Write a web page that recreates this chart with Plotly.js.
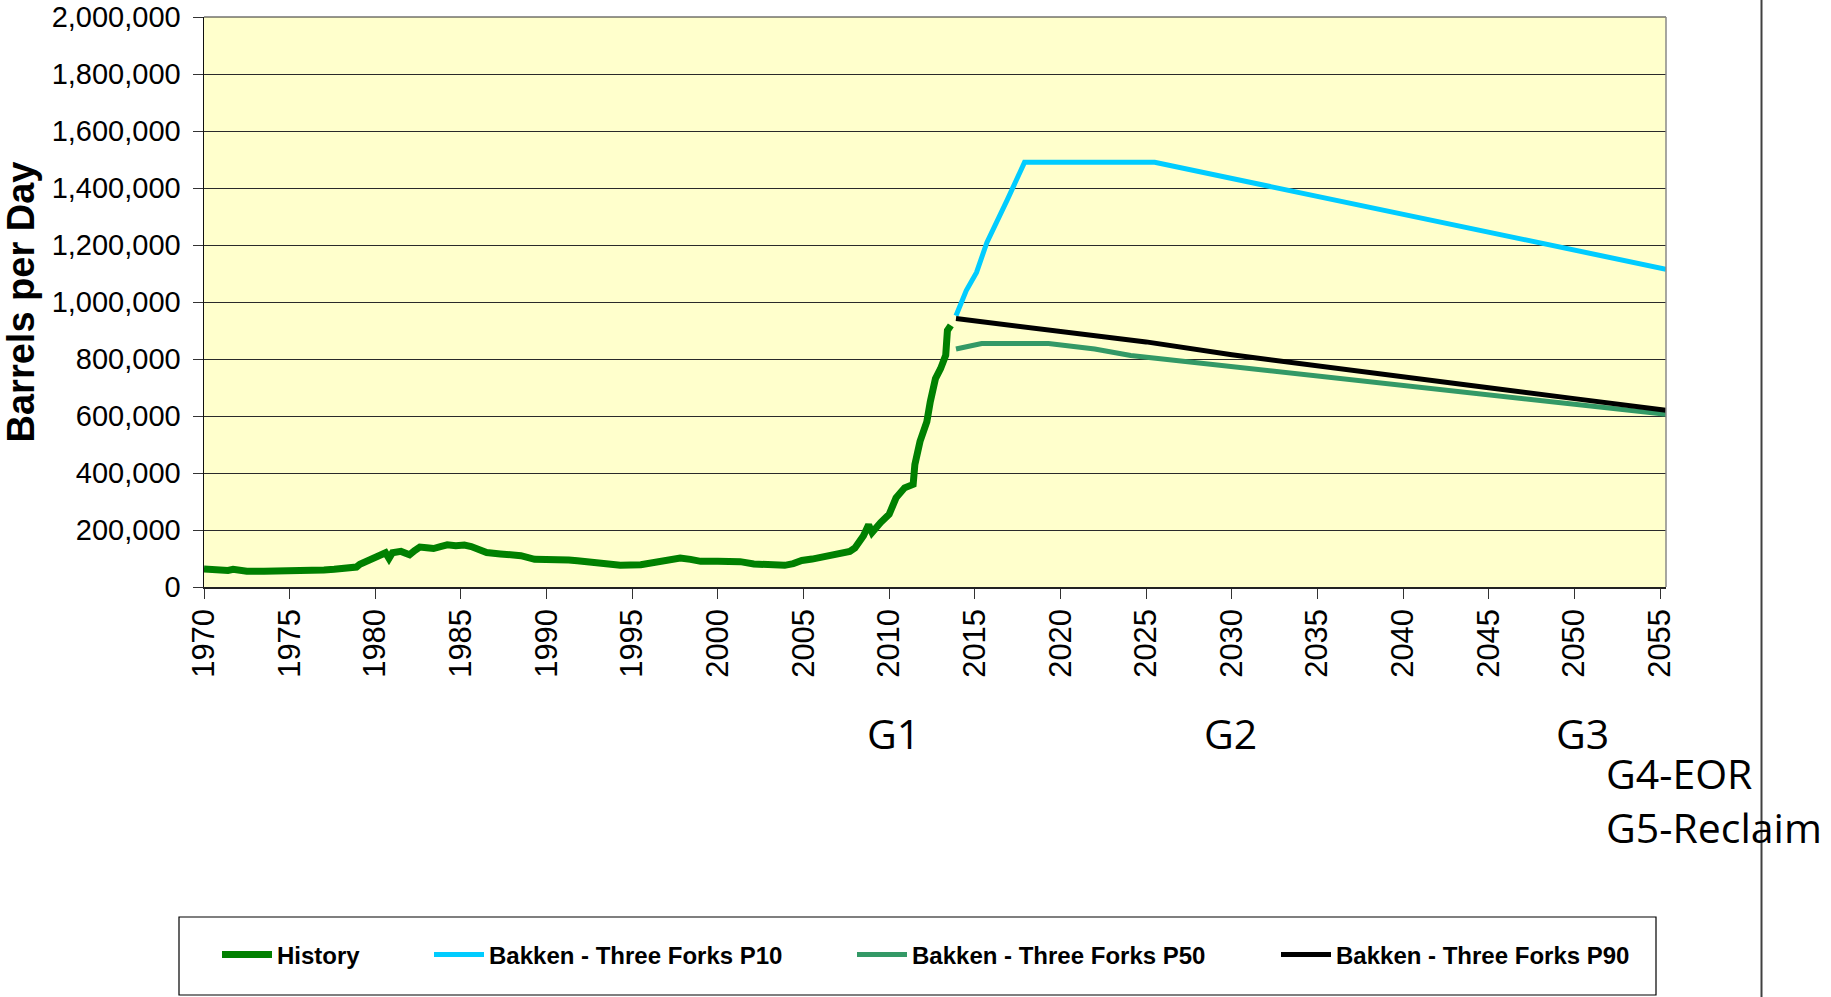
<!DOCTYPE html>
<html>
<head>
<meta charset="utf-8">
<script src="https://cdn.plot.ly/plotly-3.0.1.min.js"></script>
<style>html,body{margin:0;padding:0;background:#fff;}#chart{width:1831px;height:997px;}</style>
</head>
<body>
<div id="chart"></div>
<script>
// ---- data (years, barrels per day in thousands) ----
const histYears = [1970.0,1970.5,1971.0,1971.4,1971.7,1972.5,1973.5,1974.5,1975.5,1975.8,1976.5,1977.0,1977.6,1978.2,1978.9,1979.1,1979.5,1979.9,1980.3,1980.6,1980.8,1981.0,1981.5,1982.0,1982.3,1982.6,1983.0,1983.4,1983.8,1984.2,1984.7,1985.2,1985.6,1985.9,1986.5,1987.3,1988.0,1988.5,1989.3,1990.0,1990.8,1991.3,1991.8,1992.5,1993.2,1994.3,1995.5,1996.5,1997.3,1997.8,1998.4,1999.0,2000.0,2001.3,2002.1,2003.0,2003.9,2004.4,2004.9,2005.5,2006.0,2006.6,2007.2,2007.7,2008.0,2008.5,2008.8,2009.0,2009.5,2010.0,2010.4,2010.9,2011.4,2011.5,2011.8,2012.2,2012.4,2012.7,2013.0,2013.3,2013.4,2013.6];
const histK = [63,60,62,58,62,55,55,55,55,58,57,60,62,66,70,80,90,104,108,120,100,120,125,113,128,140,138,135,142,148,145,147,142,135,121,116,113,110,97,98,98,95,92,88,83,76,78,89,95,102,97,90,90,89,81,80,76,82,93,98,104,110,118,125,137,180,218,191,226,255,313,348,360,430,511,580,650,731,766,813,900,918];

const p10Years = [2013.9,2014.5,2015.1,2015.7,2016.9,2017.9,2025.5,2030,2035,2040,2045,2050,2055.35];
const p10K = [952,1040,1104,1208,1359,1490,1490,1434,1371,1308,1245,1182,1115];

const p50Years = [2013.9,2014.5,2015.4,2019.3,2020,2022,2024.1,2025,2030,2035,2040,2045,2050,2055.35];
const p50K = [835,842,854,854,848,835,812,806,775,740,706,672,640,606];

const p90Years = [2013.9,2020,2025,2030,2035,2040,2045,2050,2055.35];
const p90K = [942,898,860,815,775,737,699,661,620];

const seriesNames = ['History','Bakken - Three Forks P10','Bakken - Three Forks P50','Bakken - Three Forks P90'];
const xTickVals = [1970,1975,1980,1985,1990,1995,2000,2005,2010,2015,2020,2025,2030,2035,2040,2045,2050,2055];
const xTickText = xTickVals.map(String);
const yTickVals = [0,200000,400000,600000,800000,1000000,1200000,1400000,1600000,1800000,2000000];
const phaseLabels = ['G1','G2','G3','G4-EOR','G5-Reclaim'];

const toBpd = a => a.map(v => v*1000);

// ---- layout helpers (pixel -> paper) ----
const L=204, R=165, T=17, B=410, W=1831, H=997;
const PW = W-L-R, PH = H-T-B;
const PX = x => (x-L)/PW;
const PY = y => (H-B-y)/PH;

const traces = [
  {x: histYears, y: toBpd(histK), name: seriesNames[0], legend:'legend',  mode:'lines', line:{color:'#008000', width:7}},
  {x: p10Years, y: toBpd(p10K), name: seriesNames[1], legend:'legend2', mode:'lines', line:{color:'#00CCFF', width:5}},
  {x: p50Years, y: toBpd(p50K), name: seriesNames[2], legend:'legend3', mode:'lines', line:{color:'#339966', width:5}},
  {x: p90Years, y: toBpd(p90K), name: seriesNames[3], legend:'legend4', mode:'lines', line:{color:'#000000', width:5}}
];

const legFont = {family:'Liberation Sans, Arial, sans-serif', size:24, color:'#000', weight:'bold'};
const IW = 50;
const mkLegend = px => ({orientation:'h', x:PX(px - IW - 9), y:PY(955), xanchor:'left', yanchor:'middle',
                         itemwidth:IW, bgcolor:'rgba(0,0,0,0)', borderwidth:0, font:legFont});

const gFont = {family:'Open Sans, Noto Sans, sans-serif', size:41, color:'#000'};
const layout = {
  width:W, height:H,
  margin:{l:L, r:R, t:T, b:B, pad:0},
  paper_bgcolor:'#ffffff',
  plot_bgcolor:'#FFFFCC',
  font:{family:'Liberation Sans, Arial, sans-serif', color:'#000'},
  showlegend:true,
  legend: mkLegend(276),
  legend2: mkLegend(488),
  legend3: mkLegend(911),
  legend4: mkLegend(1335),
  xaxis:{range:[1970,2055.35], tickmode:'array', tickvals:xTickVals, ticktext:xTickText,
         tickangle:-90, ticks:'outside', ticklen:10, tickcolor:'#333', tickwidth:1,
         showgrid:false, zeroline:false, showline:true, linecolor:'#222', linewidth:1.5,
         ticklabeloverflow:'allow', ticklabelstandoff:-2,
         tickfont:{size:31, color:'#000'}},
  yaxis:{range:[0,2000000], tickmode:'array', tickvals:yTickVals, tickformat:',d',
         ticks:'outside', ticklen:10, tickcolor:'#333', tickwidth:1,
         showgrid:true, gridcolor:'#2a2a2a', gridwidth:1, zeroline:false,
         showline:true, linecolor:'#111', linewidth:1.5,
         ticklabeloverflow:'allow', ticklabelstandoff:6,
         tickfont:{size:29, color:'#000'},
         title:{text:'Barrels per Day', standoff:7, font:{size:38, color:'#000', weight:'bold'}}},
  shapes:[
    {type:'line', xref:'paper', yref:'paper', x0:0, x1:1, y0:1, y1:1, line:{color:'#2a2a2a', width:1}},
    {type:'line', xref:'paper', yref:'paper', x0:1, x1:1, y0:0, y1:1, line:{color:'#888', width:1.5}},
    {type:'line', xref:'paper', yref:'paper', x0:PX(1761.5), x1:PX(1761.5), y0:PY(0), y1:PY(997), line:{color:'#404040', width:2}},
    {type:'rect', xref:'paper', yref:'paper', x0:PX(179), x1:PX(1656), y0:PY(917), y1:PY(995), line:{color:'#000', width:1.2}, fillcolor:'rgba(0,0,0,0)'}
  ],
  annotations:[
    {text:phaseLabels[0], xref:'paper', yref:'paper', x:PX(893), y:PY(733), xanchor:'center', yanchor:'middle', showarrow:false, font:gFont},
    {text:phaseLabels[1], xref:'paper', yref:'paper', x:PX(1230), y:PY(733), xanchor:'center', yanchor:'middle', showarrow:false, font:gFont},
    {text:phaseLabels[2], xref:'paper', yref:'paper', x:PX(1582), y:PY(733), xanchor:'center', yanchor:'middle', showarrow:false, font:gFont},
    {text:phaseLabels[3], xref:'paper', yref:'paper', x:PX(1604), y:PY(773), xanchor:'left', yanchor:'middle', showarrow:false, font:gFont},
    {text:phaseLabels[4], xref:'paper', yref:'paper', x:PX(1604), y:PY(827), xanchor:'left', yanchor:'middle', showarrow:false, font:gFont}
  ]
};

Plotly.newPlot('chart', traces, layout, {displayModeBar:false, staticPlot:true});
</script>
</body>
</html>
